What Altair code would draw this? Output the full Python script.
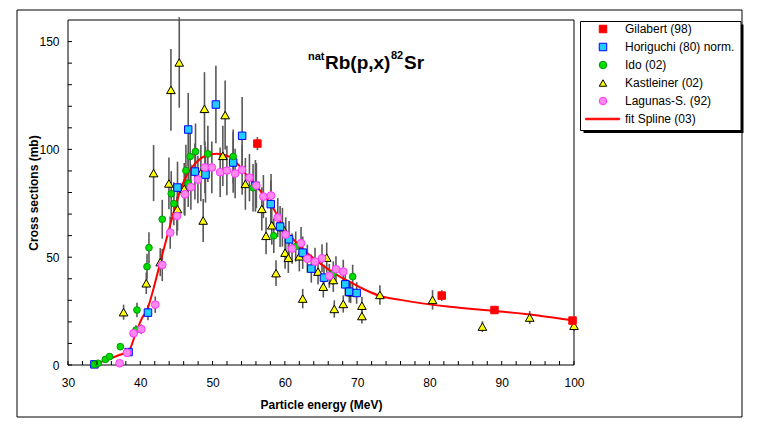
import altair as alt
import pandas as pd

# ---------------- data ----------------
series_order = ["Gilabert (98)", "Horiguchi (80) norm.", "Ido (02)",
                "Kastleiner (02)", "Lagunas-S. (92)", "fit Spline (03)"]

gil_E = [56.2, 81.7, 89.0, 99.8]
gil_S = [102.7, 32.2, 25.5, 20.6]
gil_err = [3.0, 2.5, 1.5, 1.5]

hor_E = [33.65, 38.38, 41.06, 45.15, 46.63, 47.56, 49.02, 50.46, 52.85, 54.09,
         55.93, 58.05, 59.34, 60.58, 62.47, 63.66, 65.41, 68.36, 68.91, 69.93]
hor_S = [0.3, 6.0, 24.3, 82.3, 109.2, 89.7, 88.3, 120.8, 93.9, 106.3,
         83.1, 74.6, 64.2, 58.3, 52.1, 44.7, 40.5, 37.4, 34.0, 33.4]
hor_err = [0.1, 1.0, 3.5, 12.0, 17.0, 13.0, 13.0, 18.0, 14.0, 18.0,
           12.0, 11.0, 9.5, 8.5, 7.5, 6.5, 6.0, 5.5, 5.0, 5.0]

ido_E = [33.65, 34.16, 35.17, 35.76, 37.24, 39.41, 39.54, 40.93, 41.2, 43.04,
         44.28, 44.65, 46.31, 46.63, 46.9, 47.64, 49.35, 52.85, 55.6, 58.47,
         61.5, 66.7, 69.38]
ido_S = [0.3, 0.8, 2.6, 3.9, 8.5, 16.2, 25.5, 45.6, 54.4, 67.6,
         79.4, 74.8, 90.2, 84.3, 96.7, 99.0, 97.9, 96.7, 82.2, 59.9,
         54.9, 42.6, 41.0]
ido_err = [0.1, 0.2, 0.4, 0.5, 1.1, 2.2, 3.4, 6.0, 7.2, 9.0,
           10.5, 10.0, 12.0, 11.0, 12.5, 13.0, 13.0, 12.5, 11.0, 8.0,
           7.0, 5.5, 5.5]

kas_E = [37.69, 40.83, 41.84, 42.76, 43.96, 44.24, 45.15, 45.39, 46.08, 48.38,
         48.7, 48.88, 51.42, 51.74, 54.54, 56.81, 57.4, 58.19, 58.78, 59.66,
         60.03, 60.48, 62.0, 62.47, 64.59, 65.32, 65.79, 66.7, 66.84, 68.08,
         69.1, 70.66, 70.66, 73.15, 80.43, 87.33, 93.87, 100.0]
kas_S = [24.5, 37.9, 89.0, 47.7, 84.2, 127.6, 72.3, 140.3, 81.7, 89.0,
         67.0, 118.8, 97.0, 115.9, 84.0, 72.4, 59.9, 64.8, 42.6, 63.9,
         52.1, 49.7, 50.4, 30.8, 43.3, 36.3, 49.8, 39.4, 26.0, 28.3,
         33.7, 27.5, 22.7, 32.5, 30.2, 17.8, 22.0, 18.2]
kas_err = [3.5, 5.0, 13.0, 6.5, 12.0, 19.0, 10.0, 21.0, 12.0, 13.0,
           10.0, 17.0, 14.0, 16.0, 12.0, 10.0, 8.5, 9.0, 6.0, 9.0,
           7.5, 7.0, 7.0, 4.5, 6.0, 5.0, 7.0, 5.5, 4.0, 4.0,
           5.0, 4.0, 3.5, 4.5, 4.5, 2.5, 3.0, 2.5]

lag_E = [37.14, 38.16, 39.07, 40.14, 42.07, 43.04, 44.14, 45.07, 46.17, 47.0,
         47.97, 48.94, 49.9, 51.05, 51.98, 53.12, 54.09, 55.1, 56.06, 57.03,
         58.09, 59.02, 60.12, 61.0, 62.24, 63.11, 64.17, 65.14, 66.15, 67.07,
         68.08]
lag_S = [0.8, 5.7, 14.7, 16.6, 28.0, 46.4, 61.4, 69.1, 79.2, 82.5,
         86.0, 91.6, 91.6, 89.4, 90.2, 88.8, 90.5, 86.9, 83.2, 78.1,
         78.6, 68.4, 60.5, 54.0, 56.5, 49.3, 47.9, 49.5, 41.3, 44.4,
         43.3]
lag_err = [0.2, 0.8, 2.0, 2.2, 3.8, 7.5, 7.5, 9.0, 10.0, 10.5,
           11.0, 12.0, 12.0, 11.5, 11.5, 11.5, 11.5, 11.0, 10.5, 10.0,
           10.0, 9.0, 8.0, 7.0, 7.5, 6.5, 6.5, 6.5, 5.5, 6.0,
           5.5]

spl_E = [33.6, 35.0, 37.0, 38.4, 39.3, 40.2, 41.0, 41.8, 42.8, 43.9, 44.8, 46.0,
         47.6, 49.0, 50.6, 52.4, 53.8, 55.2, 56.1, 57.0, 58.0, 59.8, 62.1, 64.9,
         67.6, 69.0, 71.0, 73.2, 76.0, 82.8, 89.0, 95.0, 100.0]
spl_S = [0.0, 2.0, 4.5, 6.5, 14.0, 21.5, 26.0, 35.0, 48.0, 62.0, 73.0, 85.0,
         93.5, 97.0, 98.0, 96.5, 92.0, 86.0, 83.0, 79.0, 75.0, 64.0, 55.0, 47.0,
         41.0, 38.5, 35.0, 32.0, 30.2, 27.0, 25.0, 23.0, 20.6]

x_labels = [30, 40, 50, 60, 70, 80, 90, 100]
y_labels = [0, 50, 100, 150]
x_minor = [30, 32, 34, 36, 38, 40, 42, 44, 46, 48, 50, 52, 54, 56, 58, 60, 62, 64,
           66, 68, 70, 72, 74, 76, 78, 80, 82, 84, 86, 88, 90, 92, 94, 96, 98, 100]
y_minor = [0, 10, 20, 30, 40, 50, 60, 70, 80, 90, 100, 110, 120, 130, 140, 150]

# ---------------- tables ----------------
def table(name, E, S, err):
    df = pd.DataFrame({"E": E, "S": S, "err": err})
    df["series"] = name
    df["lo"] = df["S"] - df["err"]
    df["hi"] = df["S"] + df["err"]
    return df

gil = table(series_order[0], gil_E, gil_S, gil_err)
hor = table(series_order[1], hor_E, hor_S, hor_err)
ido = table(series_order[2], ido_E, ido_S, ido_err)
kas = table(series_order[3], kas_E, kas_S, kas_err)
lag = table(series_order[4], lag_E, lag_S, lag_err)
spl = pd.DataFrame({"E": spl_E, "S": spl_S})

FONT = "Liberation Sans, Arial, sans-serif"

xscale = alt.Scale(domain=[30, 100], nice=False, zero=False)
yscale = alt.Scale(domain=[0, 160], nice=False)

fills = ["#ff0000", "#22ccff", "#00dd00", "#ffff00", "#ff88ee", "#ff0000"]
strokes = ["#ff0000", "#0000ff", "#009900", "#000000", "#ff33ff", "#ff0000"]
shapes = ["square", "square", "circle", "triangle-up", "circle",
          "M-4.65,-0.2H4.44V0.2H-4.65Z"]

leg = alt.Legend(title=None, orient="none", legendX=529, legendY=3,
                 labelFont=FONT, labelFontSize=12, labelColor="black",
                 symbolSize=56, symbolStrokeWidth=1, rowPadding=6,
                 labelOffset=16, padding=0, labelLimit=200)

xaxis = alt.Axis(values=x_labels, ticks=False, tickSize=0, domain=False, grid=False,
                 labelFont=FONT, labelFontSize=12, labelColor="black",
                 labelPadding=12, labelFlush=False, labelOverlap=False, zindex=2,
                 title="Particle energy (MeV)", titleFont=FONT, titleFontSize=12,
                 titleFontWeight="bold", titleColor="black",
                 titleX=253, titleY=39, titleBaseline="middle")
yaxis = alt.Axis(values=y_labels, ticks=False, tickSize=0, domain=False, grid=False,
                 labelFont=FONT, labelFontSize=12, labelColor="black",
                 labelPadding=9, labelFlush=False, labelOverlap=False, zindex=2,
                 title="Cross sections (mb)", titleFont=FONT, titleFontSize=12,
                 titleFontWeight="bold", titleColor="black",
                 titleX=-35, titleY=172.5, titleAngle=-90, titleBaseline="middle")

def enc_legend():
    return dict(
        fill=alt.Fill("series:N", scale=alt.Scale(domain=series_order, range=fills), legend=leg),
        stroke=alt.Stroke("series:N", scale=alt.Scale(domain=series_order, range=strokes), legend=leg),
        shape=alt.Shape("series:N", scale=alt.Scale(domain=series_order, range=shapes), legend=leg),
    )

one = alt.Data(values=[{"a": 1}])

# decorations (outer frame, plot border, legend box)
frame = alt.Chart(one).mark_rect(fill="transparent", stroke="black", strokeWidth=1).encode(
    x=alt.value(-51), x2=alt.value(674), y=alt.value(-10), y2=alt.value(397))
border = alt.Chart(one).mark_rect(fill="transparent", stroke="black", strokeWidth=1).encode(
    x=alt.value(0), x2=alt.value(506), y=alt.value(0), y2=alt.value(345))
shadow = alt.Chart(one).mark_rect(fill="black").encode(
    x=alt.value(515.5), x2=alt.value(675.5), y=alt.value(4.5), y2=alt.value(113))
box = alt.Chart(one).mark_rect(fill="white", stroke="black", strokeWidth=1).encode(
    x=alt.value(512.5), x2=alt.value(673), y=alt.value(1.5), y2=alt.value(110.5))

# inward ticks
xt = alt.Chart(pd.DataFrame({"t": x_minor})).mark_rule(color="black", strokeWidth=1).encode(
    x=alt.X("t:Q", scale=xscale, axis=xaxis), y=alt.value(345), y2=alt.value(341))
yt = alt.Chart(pd.DataFrame({"t": y_minor})).mark_rule(color="black", strokeWidth=1).encode(
    y=alt.Y("t:Q", scale=yscale, axis=yaxis), x=alt.value(0), x2=alt.value(4))

allpts = pd.concat([kas, hor, ido, lag, gil], ignore_index=True)
bars = alt.Chart(allpts).mark_rule(color="#595959", strokeWidth=1.6).encode(
    x=alt.X("E:Q", scale=xscale), y=alt.Y("lo:Q", scale=yscale), y2="hi:Q")

line = alt.Chart(spl).mark_line(color="#ff0000", strokeWidth=2, interpolate="monotone").encode(
    x=alt.X("E:Q", scale=xscale), y=alt.Y("S:Q", scale=yscale))

def pts(df, size):
    return alt.Chart(df).mark_point(filled=True, size=size, strokeWidth=1, opacity=1).encode(
        x=alt.X("E:Q", scale=xscale), y=alt.Y("S:Q", scale=yscale), **enc_legend())

p_kas = pts(kas, 75)
p_hor = pts(hor, 56)
p_ido = pts(ido, 45)
p_lag = pts(lag, 60)
p_gil = pts(gil, 56)

def ttext(txt, x, y, size):
    return alt.Chart(one).mark_text(text=txt, font=FONT, fontSize=size, fontWeight="bold",
                                    align="left", baseline="alphabetic", color="black").encode(
        x=alt.value(x), y=alt.value(y))

title = (ttext("nat", 240, 40, 11) + ttext("Rb(p,x)", 257, 48.5, 19) +
         ttext("82", 323, 39, 11) + ttext("Sr", 336, 48.5, 19))

chart = alt.layer(frame, shadow, box, border, bars, line, p_kas, p_hor, p_ido, p_lag, p_gil,
                  xt, yt, title).properties(
    width=506, height=345,
    padding={"left": 68, "top": 20, "right": 183, "bottom": 61},
    autosize=alt.AutoSizeParams(type="none"),
    background="white",
).configure_view(stroke=None)

chart.save("out.html", embed_options={"renderer": "svg", "actions": False})
